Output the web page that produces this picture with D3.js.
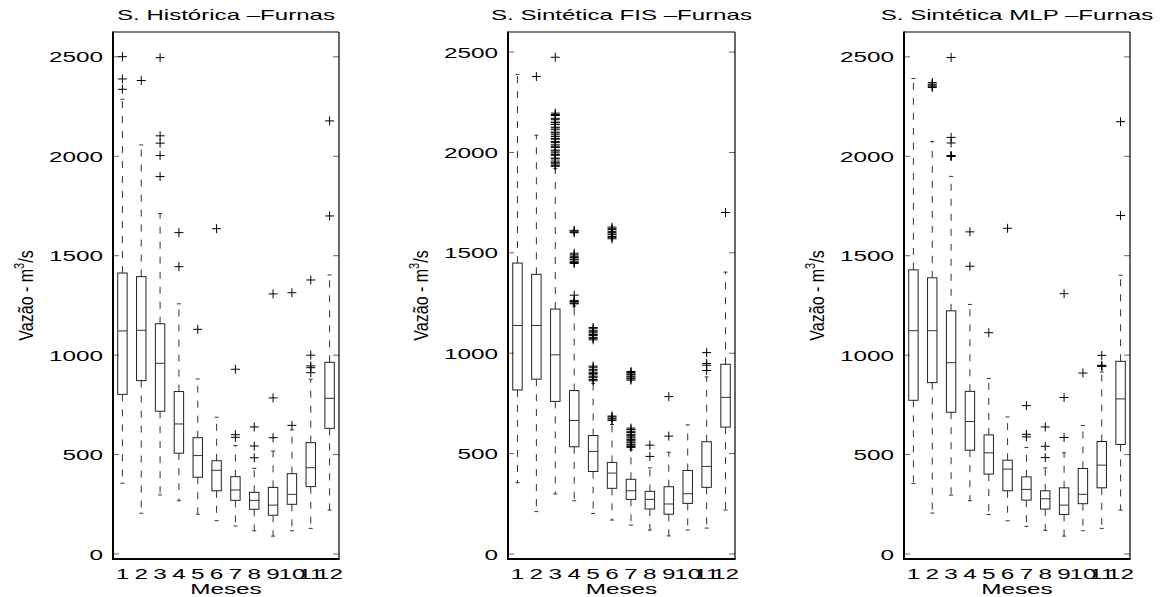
<!DOCTYPE html>
<html>
<head>
<meta charset="utf-8">
<script src="https://cdn.jsdelivr.net/npm/d3@7"></script>
<style>
  html, body { margin: 0; padding: 0; background: #fff; }
  svg { display: block; }
</style>
</head>
<body>
<svg id="chart" width="1166" height="597"></svg>
<script>
// Monthly flow series for Furnas: box statistics per month
// each row: [lower whisker, Q1, median, Q3, upper whisker]
const months = [1, 2, 3, 4, 5, 6, 7, 8, 9, 10, 11, 12];
const yTicks = [0, 500, 1000, 1500, 2000, 2500];
const titles = ["S. Histórica \u2013Furnas", "S. Sintética FIS \u2013Furnas", "S. Sintética MLP \u2013Furnas"];
const xLabel = "Meses";

const histStats = [
  [356, 803, 1122, 1413, 2287],
  [205, 872, 1125, 1395, 2057],
  [297, 718, 959, 1158, 1712],
  [268, 507, 654, 817, 1258],
  [200, 386, 495, 585, 880],
  [168, 318, 421, 469, 688],
  [141, 270, 322, 389, 545],
  [117, 225, 270, 310, 431],
  [90, 195, 246, 335, 518],
  [117, 250, 300, 404, 624],
  [129, 339, 434, 560, 879],
  [221, 632, 783, 964, 1403]
];
const histOutliers = [
  [2501, 2389, 2337],
  [2381],
  [2496, 2103, 2066, 2004, 1898],
  [1616, 1445],
  [1130],
  [1636],
  [929, 600, 587],
  [639, 543, 484],
  [1308, 785, 585],
  [1314, 647],
  [1378, 1000, 946, 937, 912],
  [2178, 1700]
];

const fisStats = [
  [355, 817, 1138, 1449, 2388],
  [211, 871, 1138, 1393, 2086],
  [299, 760, 992, 1220, 1920],
  [265, 534, 665, 814, 1235],
  [202, 411, 511, 590, 850],
  [169, 327, 403, 456, 645],
  [144, 272, 315, 372, 520],
  [119, 224, 272, 312, 429],
  [90, 198, 249, 335, 507],
  [119, 252, 300, 416, 643],
  [129, 332, 436, 559, 882],
  [219, 632, 780, 945, 1404]
];
const fisOutliers = [
  [],
  [2378],
  [2474, 2196, 2189, 2184, 2170, 2163, 2151, 2148, 2139, 2126, 2122, 2113, 2101, 2097, 2088,
   2079, 2070, 2066, 2054, 2049, 2038, 2031, 2025, 2012, 2007, 1998, 1990, 1986, 1972, 1968,
   1957, 1949, 1943, 1936, 1931],
  [1612, 1608, 1603, 1600, 1498, 1490, 1483, 1477, 1469, 1466, 1458, 1452, 1447,
   1289, 1263, 1258, 1255, 1249, 1246],
  [1128, 1122, 1112, 1107, 1101, 1093, 1088, 1079, 1074, 1067,
   936, 930, 920, 915, 905, 899, 892, 883, 878, 869, 863],
  [1628, 1620, 1616, 1607, 1602, 1594, 1590, 1581, 1577, 1570,
   687, 683, 676, 672, 665],
  [909, 904, 897, 893, 886, 882, 876, 872, 866,
   627, 620, 611, 605, 596, 591, 583, 578, 570, 566, 558, 554, 546, 542, 535, 531],
  [542, 486],
  [784, 587],
  [],
  [1003, 949, 940, 914],
  [1701]
];

const mlpStats = [
  [355, 773, 1123, 1429, 2391],
  [206, 862, 1123, 1389, 2075],
  [296, 713, 962, 1223, 1899],
  [268, 522, 666, 818, 1255],
  [199, 402, 509, 599, 883],
  [167, 318, 427, 472, 689],
  [139, 271, 325, 388, 536],
  [119, 226, 278, 318, 433],
  [90, 199, 246, 333, 509],
  [117, 253, 300, 430, 646],
  [129, 333, 447, 566, 915],
  [221, 551, 780, 969, 1402]
];
const mlpOutliers = [
  [],
  [2371, 2363, 2358, 2352, 2346],
  [2497, 2095, 2067, 2004, 2002, 1999],
  [1620, 1447],
  [1113],
  [1638],
  [746, 602, 589],
  [639, 542, 485],
  [1309, 787, 586],
  [910],
  [999, 949, 946, 943],
  [2174, 1702]
];

// ---- layout of the three side-by-side axes ----
const panels = [
  { title: titles[0], stats: histStats, outliers: histOutliers, left: 113, right: 339, yMax: 2625 },
  { title: titles[1], stats: fisStats,  outliers: fisOutliers,  left: 508, right: 735, yMax: 2600 },
  { title: titles[2], stats: mlpStats,  outliers: mlpOutliers,  left: 904, right: 1130, yMax: 2625 }
];
const plotTop = 32, plotBottom = 559;
const FONT = "'Liberation Sans', Arial, Helvetica, sans-serif";

const svg = d3.select("#chart");

// text drawn with a horizontal stretch, as the figure's glyphs are wide
function wideText(parent, x, y, str, size, sx, anchor) {
  return parent.append("text")
    .attr("transform", `translate(${x},${y}) scale(${sx},1)`)
    .attr("text-anchor", anchor || "middle")
    .attr("font-family", FONT)
    .attr("font-size", size)
    .attr("fill", "#000")
    .text(str);
}

panels.forEach(p => {
  const g = svg.append("g");
  const x = d3.scaleLinear().domain([0.5, 12.5]).range([p.left, p.right]);
  const y = d3.scaleLinear().domain([-25, p.yMax]).range([plotBottom, plotTop]);
  const halfW = (x(1.25) - x(1));   // box width 0.5 months
  const capW = 2;

  // y tick marks inside both vertical borders
  yTicks.forEach(t => {
    g.append("line").attr("x1", p.left).attr("x2", p.left + 6)
      .attr("y1", y(t)).attr("y2", y(t)).attr("stroke", "#666").attr("stroke-width", 1);
    g.append("line").attr("x1", p.right - 6).attr("x2", p.right)
      .attr("y1", y(t)).attr("y2", y(t)).attr("stroke", "#666").attr("stroke-width", 1);
    wideText(g, p.left - 10, y(t) + 5.6, String(t), 15, 1.62, "end");
  });

  // whiskers, boxes, medians, outliers
  p.stats.forEach((s, i) => {
    const m = months[i];
    const cx = x(m);
    const [lo, q1, med, q3, hi] = s;
    const wh = g.append("g").attr("stroke", "#333").attr("stroke-width", 1);
    wh.append("line").attr("x1", cx).attr("x2", cx).attr("y1", y(q3)).attr("y2", y(hi))
      .attr("stroke-dasharray", "7,8");
    wh.append("line").attr("x1", cx).attr("x2", cx).attr("y1", y(q1)).attr("y2", y(lo))
      .attr("stroke-dasharray", "7,8");
    wh.append("line").attr("x1", cx - capW).attr("x2", cx + capW).attr("y1", y(hi)).attr("y2", y(hi));
    wh.append("line").attr("x1", cx - capW).attr("x2", cx + capW).attr("y1", y(lo)).attr("y2", y(lo));

    g.append("rect")
      .attr("x", cx - halfW).attr("width", 2 * halfW)
      .attr("y", y(q3)).attr("height", y(q1) - y(q3))
      .attr("fill", "none").attr("stroke", "#222").attr("stroke-width", 1);
    g.append("line").attr("x1", cx - halfW).attr("x2", cx + halfW)
      .attr("y1", y(med)).attr("y2", y(med)).attr("stroke", "#333").attr("stroke-width", 1);

    const out = g.append("g").attr("stroke", "#000").attr("stroke-width", 1);
    p.outliers[i].forEach(v => {
      out.append("line").attr("x1", cx - 4.5).attr("x2", cx + 4.5).attr("y1", y(v)).attr("y2", y(v));
      out.append("line").attr("x1", cx).attr("x2", cx).attr("y1", y(v) - 4.5).attr("y2", y(v) + 4.5);
    });

    wideText(g, cx, 578.5, String(m), 15, 1.62, "middle");
  });

  // axes frame: heavier left and bottom edges
  g.append("line").attr("x1", p.left).attr("x2", p.right).attr("y1", plotTop).attr("y2", plotTop)
    .attr("stroke", "#000").attr("stroke-width", 1.2);
  g.append("line").attr("x1", p.right).attr("x2", p.right).attr("y1", plotTop).attr("y2", plotBottom)
    .attr("stroke", "#000").attr("stroke-width", 1.2);
  g.append("line").attr("x1", p.left).attr("x2", p.left).attr("y1", plotTop - 0.6).attr("y2", plotBottom + 1)
    .attr("stroke", "#000").attr("stroke-width", 2);
  g.append("line").attr("x1", p.left - 1).attr("x2", p.right + 0.6).attr("y1", plotBottom).attr("y2", plotBottom)
    .attr("stroke", "#000").attr("stroke-width", 2);

  const cxMid = (p.left + p.right) / 2;
  wideText(g, cxMid, 20, p.title, 14, 1.72, "middle");
  wideText(g, cxMid, 594, xLabel, 15, 1.62, "middle");

  // rotated y label
  const yl = g.append("text")
    .attr("transform", `translate(${p.left - 80},${(plotTop + plotBottom) / 2}) rotate(-90) scale(1,1.3)`)
    .attr("text-anchor", "middle")
    .attr("font-family", FONT)
    .attr("font-size", 16)
    .attr("fill", "#000");
  yl.append("tspan").text("Vazão - m");
  yl.append("tspan").attr("font-size", 11).attr("dy", -7).text("3");
  yl.append("tspan").attr("dy", 7).text("/s");
});
</script>
</body>
</html>
